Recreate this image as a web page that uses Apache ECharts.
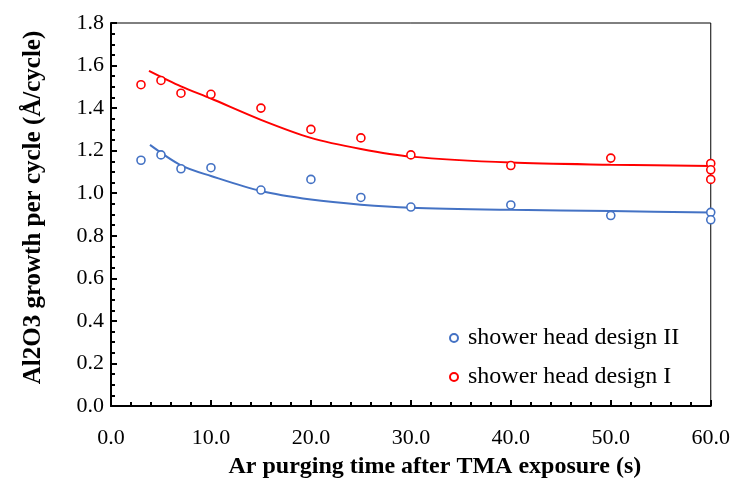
<!DOCTYPE html>
<html>
<head>
<meta charset="utf-8">
<script src="https://cdn.jsdelivr.net/npm/echarts@6/dist/echarts.min.js"></script>
<style>
  html, body { margin: 0; padding: 0; background: #fff; }
  #chart { width: 733px; height: 496px; }
</style>
</head>
<body>
<div id="chart"></div>
<script>
// Measured growth per cycle vs. Ar purge time for two shower head designs
const purgeTimeI  = [3, 5, 7, 10, 15, 20, 25, 30, 40, 50, 60, 60, 60];
const gpcI        = [1.51, 1.53, 1.47, 1.465, 1.40, 1.30, 1.26, 1.18, 1.13, 1.165, 1.14, 1.11, 1.065];
const purgeTimeII = [3, 5, 7, 10, 15, 20, 25, 30, 40, 50, 60, 60];
const gpcII       = [1.155, 1.18, 1.115, 1.12, 1.015, 1.065, 0.98, 0.935, 0.945, 0.895, 0.91, 0.875];

// Trend curves through each data set
const trendTimeI  = [3.8, 7, 10, 15, 20, 25, 30, 40, 50, 60];
const trendGpcI   = [1.575, 1.502, 1.445, 1.345, 1.260, 1.208, 1.172, 1.144, 1.134, 1.128];
const trendTimeII = [3.9, 7, 10, 15, 20, 25, 30, 40, 50, 60];
const trendGpcII  = [1.227, 1.131, 1.081, 1.010, 0.970, 0.946, 0.932, 0.922, 0.916, 0.909];

const nameI = 'shower head design I';
const nameII = 'shower head design II';
const RED = '#FF0000';
const BLUE = '#4472C4';
const FONT = '"Liberation Serif", "Times New Roman", serif';

const pairs = (xs, ys) => xs.map((x, i) => [x, ys[i]]);

const chart = echarts.init(document.getElementById('chart'), null, { renderer: 'canvas' });

const axisCommon = {
  axisLine: { show: true, lineStyle: { color: '#000', width: 2 } },
  axisTick: { show: true, inside: true, length: 6, lineStyle: { color: '#000', width: 2 } },
  minorTick: { show: true, length: 4, lineStyle: { color: '#000', width: 2 } },
  splitLine: { show: false },
  axisLabel: { color: '#000', fontFamily: FONT, fontSize: 22,
               formatter: v => v.toFixed(1) }
};

chart.setOption({
  animation: false,
  backgroundColor: '#fff',
  grid: { left: 111, right: 22, top: 23, bottom: 90, show: true,
          borderColor: '#000', borderWidth: 1, backgroundColor: 'transparent' },
  xAxis: Object.assign({}, axisCommon, {
    type: 'value', min: 0, max: 60, interval: 10,
    minorTick: Object.assign({}, axisCommon.minorTick, { splitNumber: 5 }),
    axisLabel: Object.assign({}, axisCommon.axisLabel, { margin: 21 }),
    name: 'Ar purging time after TMA exposure (s)',
    nameLocation: 'middle', nameGap: 49,
    nameTextStyle: { color: '#000', fontFamily: FONT, fontSize: 24, fontWeight: 'bold',
                     padding: [0, 0, 0, 48] }
  }),
  yAxis: Object.assign({}, axisCommon, {
    type: 'value', min: 0, max: 1.8, interval: 0.2,
    minorTick: Object.assign({}, axisCommon.minorTick, { splitNumber: 4 }),
    axisLabel: Object.assign({}, axisCommon.axisLabel, { margin: 7 }),
    name: 'Al2O3 growth per cycle (Å/cycle)',
    nameLocation: 'middle', nameGap: 65,
    nameTextStyle: { color: '#000', fontFamily: FONT, fontSize: 25, fontWeight: 'bold',
                     padding: [0, 0, 0, 14] }
  }),
  legend: {
    data: [nameII, nameI],
    orient: 'vertical',
    left: 444, top: 321,
    itemWidth: 8, itemHeight: 8, itemGap: 15,
    textStyle: { color: '#000', fontFamily: FONT, fontSize: 24, padding: [0, 0, 0, 5] }
  },
  series: [
    {
      name: 'trend II', type: 'line', data: pairs(trendTimeII, trendGpcII),
      smooth: 0.3, showSymbol: false, silent: true,
      lineStyle: { color: BLUE, width: 2 }, z: 2
    },
    {
      name: 'trend I', type: 'line', data: pairs(trendTimeI, trendGpcI),
      smooth: 0.3, showSymbol: false, silent: true,
      lineStyle: { color: RED, width: 2 }, z: 2
    },
    {
      name: nameII, type: 'scatter', data: pairs(purgeTimeII, gpcII),
      symbol: 'circle', symbolSize: 8, clip: false,
      itemStyle: { color: '#fff', borderColor: BLUE, borderWidth: 1.6, opacity: 1 }, z: 3
    },
    {
      name: nameI, type: 'scatter', data: pairs(purgeTimeI, gpcI),
      symbol: 'circle', symbolSize: 8, clip: false,
      itemStyle: { color: '#fff', borderColor: RED, borderWidth: 1.6, opacity: 1 }, z: 3
    }
  ]
});
</script>
</body>
</html>
